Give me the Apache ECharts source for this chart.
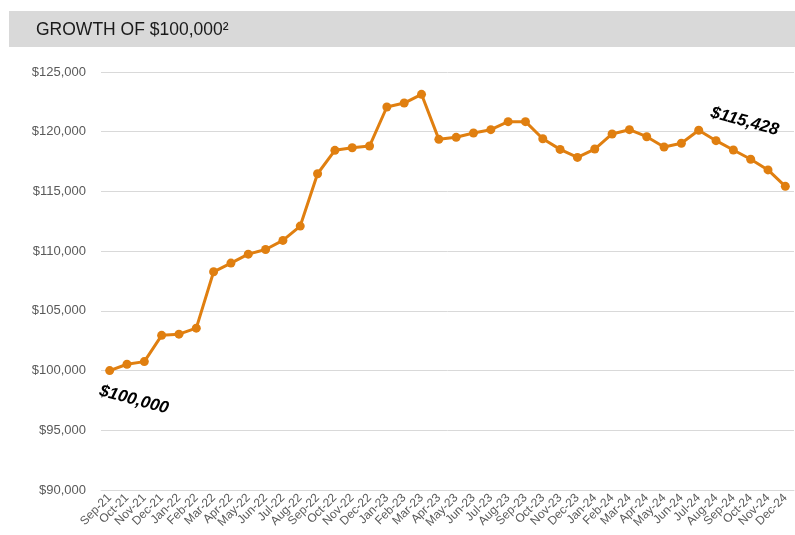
<!DOCTYPE html>
<html>
<head>
<meta charset="utf-8">
<script src="https://cdn.jsdelivr.net/npm/echarts@6/dist/echarts.min.js"></script>
<style>
  html, body { margin: 0; padding: 0; background: #fff; }
  #chart { width: 795px; height: 535px; }
</style>
</head>
<body>
<div id="chart"></div>
<script>
// month labels, Sep-21 .. Dec-24
const months = [
  'Sep-21', 'Oct-21', 'Nov-21', 'Dec-21',
  'Jan-22', 'Feb-22', 'Mar-22', 'Apr-22', 'May-22', 'Jun-22', 'Jul-22', 'Aug-22',
  'Sep-22', 'Oct-22', 'Nov-22', 'Dec-22',
  'Jan-23', 'Feb-23', 'Mar-23', 'Apr-23', 'May-23', 'Jun-23', 'Jul-23', 'Aug-23',
  'Sep-23', 'Oct-23', 'Nov-23', 'Dec-23',
  'Jan-24', 'Feb-24', 'Mar-24', 'Apr-24', 'May-24', 'Jun-24', 'Jul-24', 'Aug-24',
  'Sep-24', 'Oct-24', 'Nov-24', 'Dec-24'
]

// growth of $100,000
const growth = [
  100000, 100530, 100750, 102950,
  103050, 103550, 108270, 109000, 109750, 110140, 110900, 112100,
  116480, 118440, 118660, 118800,
  122070, 122400, 123130, 119360, 119530, 119890, 120170, 120840,
  120840, 119410, 118520, 117850,
  118550, 119810, 120170, 119580, 118720, 119030, 120120, 119250,
  118470, 117690, 116800, 115428
]

const yTicks = { min: 90000, max: 125000, step: 5000 }

const lineColor = '#E07F10'
const fmt = v => '$' + Math.round(v).toLocaleString('en-US')

// offsets are in the rotated label frame
const annot = (value, offset) => ({
  value,
  label: {
    show: true,
    formatter: fmt(value),
    position: 'inside',
    offset,
    rotate: -15,
    fontSize: 17,
    fontWeight: 'bold',
    fontStyle: 'italic',
    color: '#000',
    fontFamily: 'Liberation Sans, Arial, sans-serif'
  }
})

const seriesData = growth.map((v, i) => {
  if (i === 0) return annot(v, [31, 22])
  if (i === growth.length - 1) return annot(v, [-56, -52])
  return v
})

const chart = echarts.init(document.getElementById('chart'))
chart.setOption({
  animation: false,
  textStyle: { fontFamily: 'Liberation Sans, Arial, sans-serif' },
  graphic: [
    {
      type: 'rect',
      left: 9,
      top: 11,
      shape: { width: 790, height: 36 },
      style: { fill: '#d9d9d9' },
      z: -1
    }
  ],
  title: {
    text: 'GROWTH OF $100,000²',
    left: 31,
    top: 16,
    textStyle: {
      fontSize: 17.5,
      fontWeight: 'normal',
      color: '#1a1a1a',
      fontFamily: 'Liberation Sans, Arial, sans-serif'
    }
  },
  grid: { left: 101, right: 1, top: 72, bottom: 45 },
  xAxis: {
    type: 'category',
    data: months,
    boundaryGap: true,
    axisLine: { show: true, lineStyle: { color: '#d9d9d9', width: 1 } },
    axisTick: { show: false },
    axisLabel: {
      rotate: 45,
      interval: 0,
      fontSize: 12,
      color: '#595959',
      margin: 6
    }
  },
  yAxis: {
    type: 'value',
    min: yTicks.min,
    max: yTicks.max,
    interval: yTicks.step,
    axisLine: { show: false },
    axisTick: { show: false },
    splitLine: { lineStyle: { color: '#d9d9d9', width: 1 } },
    axisLabel: {
      formatter: fmt,
      fontSize: 13,
      color: '#595959',
      margin: 15
    }
  },
  series: [
    {
      type: 'line',
      data: seriesData,
      symbol: 'circle',
      symbolSize: 9,
      showAllSymbol: true,
      lineStyle: { color: lineColor, width: 3 },
      itemStyle: { color: lineColor },
      emphasis: { disabled: true }
    }
  ]
})
</script>
</body>
</html>
